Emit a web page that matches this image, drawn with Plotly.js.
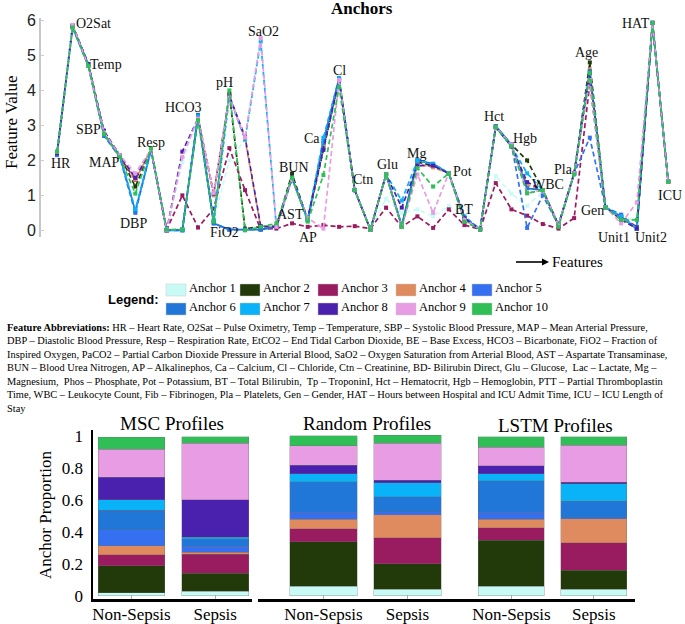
<!DOCTYPE html>
<html><head><meta charset="utf-8">
<script src="https://cdn.plot.ly/plotly-3.0.1.min.js"></script>
<style>html,body{margin:0;padding:0;background:#fff}#chart{width:685px;height:624px}</style>
</head><body><div id="chart"></div>
<script>
// ---------- DATA ----------
const features = ['HR','O2Sat','Temp','SBP','MAP','DBP','Resp','EtCO2','BE','HCO3','FiO2','pH','PaCO2','SaO2','AST','BUN','AP','Ca','Cl','Ctn','BD','Glu','Lac','Mg','Phos','Pot','BT','Tp','Hct','Hgb','PTT','WBC','Fib','Pla','Age','Gen','Unit1','Unit2','HAT','ICU'];
const anchorNames = ['Anchor 1','Anchor 2','Anchor 3','Anchor 4','Anchor 5','Anchor 6','Anchor 7','Anchor 8','Anchor 9','Anchor 10'];

const anchor1  = [2.2,5.8,4.7,2.75,2.1,1.6,2.3,0,1.95,3.2,0.3,2.0,2.6,5.45,0.1,1.45,0.3,2.4,4.25,1.15,0.05,0.9,0.5,0.6,0.4,0.7,0.4,0.05,1.55,1.05,0.7,1.1,0.15,1.6,4.5,0.66,0.35,0.3,5.93,1.39];
const anchor2  = [2.2,5.85,4.75,2.8,2.15,1.25,2.3,0,0.02,3.25,0.25,3.9,0.05,0.1,0.12,1.62,0.3,2.35,4.3,1.15,0.02,1.6,0.1,1.95,1.85,1.63,0.3,0.03,2.95,2.45,2.0,1.15,0.15,1.63,4.8,0.66,0.35,0.05,5.93,1.39];
const anchor3  = [2.2,5.8,4.7,2.75,2.1,1.44,2.3,0.02,1.0,0.08,0.62,2.35,1.15,0.03,0.05,0.2,0.1,0.15,0.1,0.12,0.05,0.65,0.1,0.4,0.07,0.6,0.15,0.03,1.35,0.6,0.42,0.18,0.05,0.35,4.2,0.66,0.4,0.1,5.93,1.39];
const anchor4  = [2.2,5.85,4.75,2.8,2.15,1.45,2.3,0,0.02,3.25,1.0,3.85,2.6,0.1,0.1,1.5,0.3,2.4,4.3,1.15,0.02,1.6,0.12,1.9,1.8,1.63,0.3,0.03,2.95,2.4,1.3,1.15,0.15,1.63,4.6,0.66,0.35,0.05,5.93,1.39];
const anchor5  = [2.15,5.8,4.7,2.7,2.1,0.5,2.3,0,0,3.3,0.2,0.02,0.02,0.02,0.1,1.5,0.3,2.5,4.35,1.15,0.02,1.6,0.1,2.0,1.9,1.63,0.35,0.03,2.98,2.45,0.07,1.0,0.15,1.63,2.65,0.66,0.45,0.05,5.93,1.39];
const anchor6  = [2.2,5.85,4.75,2.75,2.15,0.55,2.3,0,0,3.3,0.2,0.02,0.02,0.02,0.1,1.5,0.3,2.55,4.35,1.15,0.02,1.6,0.15,2.0,1.9,1.63,0.35,0.03,2.98,2.45,1.2,1.15,0.15,1.63,4.55,0.66,0.4,0.05,5.93,1.39];
const anchor7  = [2.2,5.85,4.75,2.8,2.15,0.6,2.3,0,0.02,3.25,0.3,3.8,2.6,5.4,0.1,1.5,0.3,2.65,4.35,1.15,0.02,1.6,0.85,2.0,1.9,1.63,0.4,0.03,2.95,2.4,1.63,1.15,0.15,1.63,4.5,0.66,0.4,0.05,5.93,1.39];
const anchor8  = [2.2,5.85,4.75,2.85,2.15,1.5,2.3,0,2.25,3.2,1.05,3.85,2.67,0.12,0.1,1.5,0.35,2.3,4.3,1.15,0.02,1.6,0.65,1.85,1.85,1.63,0.35,0.03,2.95,2.4,1.38,1.15,0.15,1.63,4.5,0.66,0.3,0.05,5.93,1.39];
const anchor9  = [2.25,5.87,4.7,2.8,2.15,1.63,2.3,0,2.1,3.2,1.07,3.8,2.65,5.5,0.1,1.45,0.35,0.05,4.3,1.15,0.02,1.6,0.1,1.6,0.5,1.63,0.3,0.03,2.95,2.45,1.06,1.15,0.15,1.63,4.3,0.66,0.2,0.8,5.93,1.39];
const anchor10 = [2.25,5.8,4.7,2.75,2.1,1.05,2.35,0.02,0.03,3.15,0.25,4.0,0.0,0.1,0.2,1.5,0.25,1.58,4.1,1.15,0.02,1.6,0.1,1.78,1.25,1.63,0.25,0.03,2.95,2.4,1.06,1.15,0.1,1.6,4.5,0.66,0.3,0.3,5.93,1.39];

// Stacked anchor proportions, Anchor 1 (bottom) .. Anchor 10 (top)
const groups = ['Non-Sepsis','Sepsis'];
const mscNonSepsis    = [0.02,0.17,0.067,0.056,0.10,0.123,0.065,0.144,0.173,0.077];
const mscSepsis       = [0.03,0.11,0.12,0.012,0.04,0.046,0.01,0.236,0.353,0.042];
const randomNonSepsis = [0.06,0.28,0.081,0.058,0.044,0.194,0.05,0.052,0.121,0.063];
const randomSepsis    = [0.042,0.16,0.163,0.144,0.017,0.094,0.09,0.014,0.234,0.048];
const lstmNonSepsis   = [0.06,0.288,0.079,0.052,0.046,0.198,0.042,0.052,0.115,0.067];
const lstmSepsis      = [0.04,0.121,0.171,0.152,0.006,0.104,0.109,0.01,0.23,0.056];

const yTickVals = [0,1,2,3,4,5,6];
const propTickVals = [0,0.2,0.4,0.6,0.8,1];
const propTickText = ['0','0.2','0.4','0.6','0.8','1'];

const abbrevLines = [
 '<b>Feature Abbreviations:</b> HR – Heart Rate, O2Sat – Pulse Oximetry, Temp – Temperature, SBP – Systolic Blood Pressure, MAP – Mean Arterial Pressure,',
 'DBP – Diastolic Blood Pressure, Resp – Respiration Rate, EtCO2 – End Tidal Carbon Dioxide, BE – Base Excess, HCO3 – Bicarbonate, FiO2 – Fraction of',
 'Inspired Oxygen, PaCO2 – Partial Carbon Dioxide Pressure in Arterial Blood, SaO2 – Oxygen Saturation from Arterial Blood, AST – Aspartate Transaminase,',
 'BUN – Blood Urea Nitrogen, AP – Alkalinephos, Ca – Calcium, Cl – Chloride, Ctn – Creatinine, BD- Bilirubin Direct, Glu – Glucose,  Lac – Lactate, Mg –',
 'Magnesium,  Phos – Phosphate, Pot – Potassium, BT – Total Bilirubin,  Tp – TroponinI, Hct – Hematocrit, Hgb – Hemoglobin, PTT – Partial Thromboplastin',
 'Time, WBC – Leukocyte Count, Fib – Fibrinogen, Pla – Platelets, Gen – Gender, HAT – Hours between Hospital and ICU Admit Time, ICU – ICU Length of',
 'Stay'
];

// ---------- STYLE / POSITIONS ----------
const colors = ['#c9fbf6','#223a09','#9a1c60','#e08b5f','#3570f0','#2177d8','#0ab2f8','#4a21ae','#e89ce3','#2fbf56'];
const solid = [false,false,false,false,false,true,false,false,false,false];
const labelX = [0.26,2.33,3.13,2.0,3.0,4.9,6.0,6.0,8.23,8.1,10.66,10.66,13.15,13.15,14.87,15.1,16.0,16.3,18.0,19.5,19.97,21.1,22.08,22.97,24.25,25.85,26.0,27.25,27.9,29.87,30.0,31.3,32.3,32.3,33.8,34.14,35.55,37.9,36.95,39.1];
const labelY = [1.92,5.92,4.75,2.89,1.95,0.2,2.5,-0.2,-0.22,3.52,-0.05,4.24,-0.22,5.67,0.44,1.81,-0.19,2.63,4.58,1.44,-0.22,1.87,-0.22,2.2,-0.22,1.68,0.6,-0.22,3.26,2.63,-0.25,1.32,-0.22,1.75,5.07,0.58,-0.19,-0.19,5.92,1.0];

const W = 685, H = 624;
const px = x => x / W;
const py = y => 1 - y / H;
const SERIF = 'Liberation Serif';
const SANS = 'Liberation Sans';

const anchors = [anchor1,anchor2,anchor3,anchor4,anchor5,anchor6,anchor7,anchor8,anchor9,anchor10];
const xIdx = features.map((f, i) => i);

const traces = [];
anchors.forEach((vals, k) => {
  traces.push({
    type: 'scatter', mode: 'lines+markers', x: xIdx, y: vals, name: anchorNames[k],
    xaxis: 'x', yaxis: 'y', showlegend: false, cliponaxis: false,
    line: {color: colors[k], width: 1.7, dash: solid[k] ? 'solid' : '5px,3px'},
    marker: {symbol: 'square', size: 4, color: colors[k]}
  });
});

const panels = [
  {ns: mscNonSepsis, s: mscSepsis, xa: 'x2', ya: 'y2'},
  {ns: randomNonSepsis, s: randomSepsis, xa: 'x3', ya: 'y3'},
  {ns: lstmNonSepsis, s: lstmSepsis, xa: 'x4', ya: 'y4'}
];
panels.forEach(p => {
  for (let k = 0; k < 10; k++) {
    traces.push({
      type: 'bar', x: groups, y: [p.ns[k], p.s[k]], name: anchorNames[k],
      xaxis: p.xa, yaxis: p.ya, showlegend: false, width: 0.8,
      marker: {color: colors[k], line: {color: 'rgba(110,110,110,0.55)', width: 0.6}}
    });
  }
});

const annotations = [];
annotations.push({xref:'paper', yref:'paper', x: px(362), y: py(9), text:'<b>Anchors</b>', showarrow:false,
  font:{family:SERIF, size:17, color:'#000'}, xanchor:'center', yanchor:'middle'});
annotations.push({xref:'paper', yref:'paper', x: px(12), y: py(122), text:'Feature Value', textangle:-90, showarrow:false,
  font:{family:SERIF, size:17, color:'#000'}, xanchor:'center', yanchor:'middle'});
features.forEach((f, i) => {
  annotations.push({xref:'x', yref:'y', x: labelX[i], y: labelY[i], text: f, showarrow:false,
    font:{family:SERIF, size:14, color:'#111'}, xanchor:'center', yanchor:'middle'});
});
annotations.push({xref:'paper', yref:'paper', x: px(550), y: py(262), text:'Features', showarrow:false,
  font:{family:SERIF, size:15, color:'#000'}, xanchor:'left', yanchor:'middle'});
annotations.push({xref:'paper', yref:'paper', x: px(106), y: py(299), text:'<b>Legend:</b>', showarrow:false,
  font:{family:SANS, size:13, color:'#000'}, xanchor:'left', yanchor:'middle'});

const shapes = [];
shapes.push({type:'line', xref:'paper', yref:'paper', x0:px(516), x1:px(543), y0:py(262), y1:py(262), line:{color:'#000', width:1.6}});
shapes.push({type:'path', xref:'paper', yref:'paper', path:`M ${px(542)} ${py(258.5)} L ${px(549)} ${py(262)} L ${px(542)} ${py(265.5)} Z`, fillcolor:'#000', line:{width:0}});
const legCols = [166, 240, 318, 396, 472];
const legRows = [290, 309];
anchorNames.forEach((nm, k) => {
  const cx = legCols[k % 5], cy = legRows[Math.floor(k / 5)];
  shapes.push({type:'rect', xref:'paper', yref:'paper', x0:px(cx), x1:px(cx+20), y0:py(cy+6), y1:py(cy-6),
    fillcolor: colors[k], line:{color:'rgba(200,200,200,0.8)', width:0.6}});
  annotations.push({xref:'paper', yref:'paper', x: px(cx+21), y: py(cy-2), text: nm, showarrow:false,
    font:{family:SERIF, size:12.5, color:'#000'}, xanchor:'left', yanchor:'middle'});
});
const abbrevY = [327, 340.5, 354, 367.5, 381, 394.5, 408];
abbrevLines.forEach((t, i) => {
  annotations.push({xref:'paper', yref:'paper', x: px(5), y: py(abbrevY[i]), text: t, showarrow:false,
    font:{family:SERIF, size:10.4, color:'#000'}, xanchor:'left', yanchor:'middle', align:'left'});
});
[['MSC Profiles', 172, 423], ['Random Profiles', 367, 423], ['LSTM Profiles', 555, 425]].forEach(a => {
  annotations.push({xref:'paper', yref:'paper', x: px(a[1]), y: py(a[2]), text: a[0], showarrow:false,
    font:{family:SERIF, size:19, color:'#000'}, xanchor:'center', yanchor:'middle'});
});
annotations.push({xref:'paper', yref:'paper', x: px(45), y: py(515), text:'Anchor Proportion', textangle:-90, showarrow:false,
  font:{family:SERIF, size:17, color:'#000'}, xanchor:'center', yanchor:'middle'});

const barY = [-0.02, 1.04];
const barXAxis = (dom, rng, anchor) => ({domain: dom, range: rng, anchor: anchor, type:'category',
  showline:true, linecolor:'#000', linewidth:2.5, ticks:'inside', ticklen:4, tickcolor:'#aaa', tickwidth:1,
  showgrid:false, zeroline:false, ticklabelstandoff: -2, tickfont:{family:SERIF, size:17, color:'#000'}});
const barYAxis = (dom, anchor, show) => ({domain: dom, range: barY, anchor: anchor,
  showline: show, linecolor:'#000', linewidth:2.5, showticklabels: show, tickvals: propTickVals, ticktext: propTickText,
  ticks:'', showgrid:false, zeroline:false, ticklabelstandoff: 4, tickfont:{family:SERIF, size:17, color:'#000'}});

const barDomY = [py(599), py(430)];
const layout = {
  width: W, height: H, margin:{l:0, r:0, t:0, b:0}, paper_bgcolor:'#fff', plot_bgcolor:'rgba(0,0,0,0)',
  showlegend:false, barmode:'stack', bargap:0.2,
  xaxis:{domain:[px(41), px(676)], range:[-1.02, 39.5], anchor:'y', showticklabels:false, showline:false,
    zeroline:false, showgrid:false, ticks:''},
  yaxis:{domain:[py(237), py(18)], range:[-0.19, 6.07], anchor:'x', showline:true, linecolor:'#c8c8c8', linewidth:2,
    tickvals: yTickVals, ticks:'inside', ticklen:3, tickcolor:'#cfcfcf', showgrid:false, zeroline:false,
    tickfont:{family:SANS, size:16, color:'#222'}},
  xaxis2: barXAxis([px(93), px(252)], [-0.46, 1.44], 'y2'),
  yaxis2: barYAxis(barDomY, 'x2', true),
  xaxis3: barXAxis([px(258), px(462)], [-0.78, 1.65], 'y3'),
  yaxis3: barYAxis(barDomY, 'x3', false),
  xaxis4: barXAxis([px(462), px(635)], [-0.6, 1.5], 'y4'),
  yaxis4: barYAxis(barDomY, 'x4', false),
  annotations: annotations, shapes: shapes
};

Plotly.newPlot('chart', traces, layout, {staticPlot:true, displayModeBar:false});
</script></body></html>
